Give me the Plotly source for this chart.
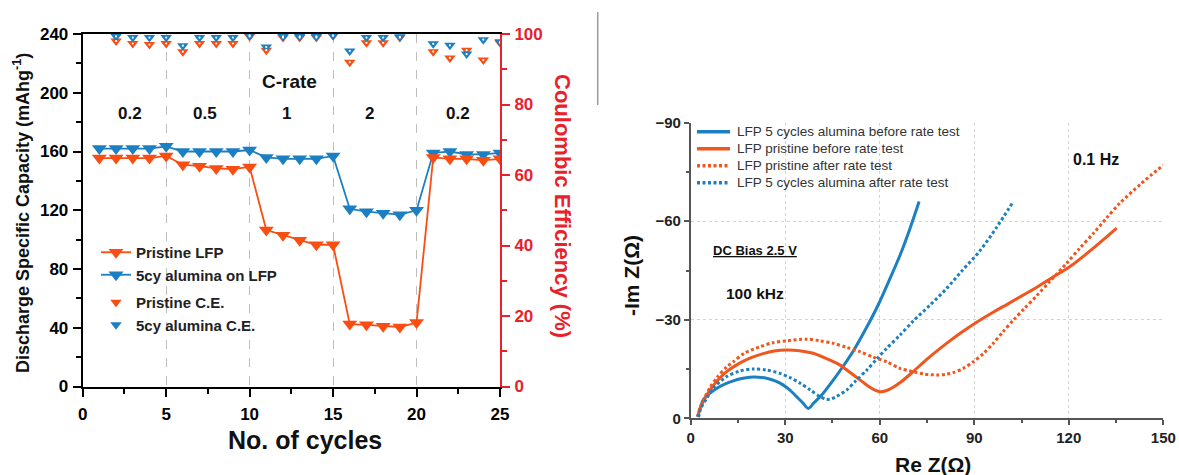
import plotly.graph_objects as go

# ---------------- rate capability data ----------------
cycles = list(range(1, 26))
cap_pristine = [155.5, 155.5, 155.5, 155.5, 157, 151, 150, 148.5, 148, 149.5,
                106.5, 103, 99.5, 96.5, 96.5, 42.5, 42, 41, 40.5, 43.5,
                156, 155, 155, 154, 155]
cap_alumina = [162, 162, 162, 162, 163.5, 160, 160, 160, 160, 161,
               156, 155, 155, 155, 157, 121, 119, 118, 117, 120,
               159, 160, 158, 158, 159]
ce_pristine = [None, 98, 97.3, 97, 97.3, 95, 97.3, 97.3, 97.3, 99.3,
               95.4, 99, 99, 99, 99.5, 92, 97.5, 97.5, 99, None,
               95, 93.2, 95.4, 92.6, 97.5]
ce_alumina = [None, 99.3, 99, 99, 99, 96.7, 99, 99, 99, 99.6,
              96.3, 99.3, 99.3, 99.3, 99.6, 95.2, 99, 99, 99.2, None,
              97.2, 96.8, 94.3, 98.4, 97.8]
rate_bounds = [0, 5, 10, 15, 20, 25]
rate_labels = ["0.2", "0.5", "1", "2", "0.2"]

# ---------------- impedance (Nyquist) data ----------------
re_al_before = [2.2, 3.0, 4.0, 6.0, 8.2, 10.8, 13.5, 16.2, 18.8, 21.5, 24.1, 27.0,
                29.4, 31.6, 33.6, 35.5, 37.3, 39.2, 41.5, 45.3, 48.5, 51.6, 55.9,
                59.5, 63.0, 66.5, 69.5, 72.5]
im_al_before = [-0.5, -3.0, -5.6, -7.6, -9.1, -10.4, -11.4, -12.1, -12.5, -12.5,
                -12.2, -11.3, -10.1, -8.5, -6.6, -4.8, -3.0, -4.8, -7.0, -11.7,
                -16.0, -20.5, -27.8, -34.5, -42.0, -49.8, -57.5, -66.0]

re_pr_before = [2.2, 3.0, 4.5, 6.1, 8.5, 11.4, 15.0, 18.8, 23.0, 26.5, 30.5, 34.5,
                38.9, 43.0, 47.4, 50.5, 53.7, 56.5, 58.5, 60.1, 62.0, 64.0, 66.4,
                70.6, 75.0, 81.2, 86.0, 91.0, 96.0, 101.0, 105.5, 110.0, 115.0,
                120.4, 127.8, 135.2]
im_pr_before = [-0.5, -3.0, -6.0, -8.6, -11.5, -14.2, -16.5, -18.3, -19.7, -20.5,
                -20.8, -20.6, -19.8, -18.2, -16.2, -14.0, -11.7, -9.7, -8.6, -8.1,
                -8.4, -9.3, -10.8, -14.2, -18.0, -22.8, -26.2, -29.4, -32.3, -35.0,
                -37.5, -40.0, -43.0, -46.2, -51.8, -57.9]

re_pr_after = [2.2, 3.0, 4.5, 6.1, 8.5, 11.4, 13.5, 17.0, 22.0, 26.0, 30.5, 36.8,
               41.0, 45.3, 49.5, 53.7, 58.0, 62.2, 66.4, 70.6, 74.0, 78.0, 81.0,
               83.3, 86.5, 89.7, 93.0, 96.0, 99.0, 102.4, 106.0, 109.8, 114.0,
               119.3, 123.5, 127.8, 132.0, 136.2, 143.0, 150.0]
im_pr_after = [-0.5, -3.2, -6.5, -9.3, -12.6, -15.6, -17.2, -19.8, -21.8, -23.0,
               -23.6, -24.1, -23.6, -22.8, -21.6, -20.3, -18.6, -17.2, -15.2, -14.2,
               -13.5, -13.2, -13.4, -13.9, -15.2, -17.2, -19.8, -22.8, -26.2, -29.9,
               -33.5, -37.3, -41.7, -47.2, -51.8, -56.3, -61.0, -65.5, -71.5, -77.1]

re_al_after = [2.5, 3.2, 5.1, 7.5, 11.4, 15.5, 19.9, 24.0, 28.3, 31.5, 34.7, 38.0,
               41.0, 43.0, 44.2, 46.0, 49.5, 52.5, 55.9, 59.0, 62.2, 66.4, 70.6,
               76.0, 81.2, 86.0, 91.8, 97.0, 102.4]
im_al_after = [-0.3, -3.0, -6.1, -9.5, -12.7, -14.4, -15.0, -14.7, -13.7, -12.4,
               -10.7, -8.6, -6.6, -5.8, -5.8, -6.5, -8.6, -11.5, -14.7, -18.0,
               -21.3, -25.3, -29.6, -34.5, -39.5, -44.8, -51.0, -58.0, -66.0]

ORANGE = "#FA4D12"
BLUE = "#1C7FC2"
RED = "#E8212B"
E_ORANGE = "#F0561E"
E_BLUE = "#1C80C0"
FONT = "Arial, Liberation Sans, sans-serif"
DOT = "3px,2.5px"

W, H = 1179, 475


def px(x):
    return x / W


def py(y):
    return 1 - y / H


fig = go.Figure()

# ---- discharge capacity (left axis) ----
fig.add_trace(go.Scatter(
    x=cycles, y=cap_alumina, mode="lines+markers", name="5cy alumina on LFP",
    line=dict(color=BLUE, width=1.8),
    marker=dict(symbol="triangle-down", size=13, color=BLUE),
    xaxis="x", yaxis="y", legend="legend", legendgroup="cap", legendrank=2))
fig.add_trace(go.Scatter(
    x=cycles, y=cap_pristine, mode="lines+markers", name="Pristine LFP",
    line=dict(color=ORANGE, width=1.8),
    marker=dict(symbol="triangle-down", size=13, color=ORANGE),
    xaxis="x", yaxis="y", legend="legend", legendgroup="cap", legendrank=1))

# ---- coulombic efficiency (right axis) ----
fig.add_trace(go.Scatter(
    x=cycles, y=ce_pristine, mode="markers", name="Pristine C.E.",
    marker=dict(symbol="triangle-down", size=10, color=ORANGE),
    xaxis="x", yaxis="y2", legend="legend", legendgroup="ce", legendrank=3))
fig.add_trace(go.Scatter(
    x=cycles, y=ce_alumina, mode="markers", name="5cy alumina C.E.",
    marker=dict(symbol="triangle-down", size=10, color=BLUE),
    xaxis="x", yaxis="y2", legend="legend", legendgroup="ce", legendrank=4))
for ce in (ce_pristine, ce_alumina):
    fig.add_trace(go.Scatter(
        x=cycles, y=ce, mode="markers", showlegend=False, hoverinfo="skip",
        marker=dict(symbol="circle", size=2.2, color="white"),
        xaxis="x", yaxis="y2"))

# ---- Nyquist curves ----
nyq = [
    (re_al_before, im_al_before, "LFP 5 cycles alumina before rate test", E_BLUE, "solid"),
    (re_pr_before, im_pr_before, "LFP pristine before rate test", E_ORANGE, "solid"),
    (re_pr_after, im_pr_after, "LFP pristine after rate test", E_ORANGE, DOT),
    (re_al_after, im_al_after, "LFP 5 cycles alumina after rate test", E_BLUE, DOT),
]
for xs, ys, name, col, dash in nyq:
    fig.add_trace(go.Scatter(
        x=xs, y=ys, mode="lines", name=name, showlegend=False,
        line=dict(color=col, width=3, dash=dash, shape="spline", smoothing=0.8),
        xaxis="x2", yaxis="y3"))

bold = dict(family=FONT, weight="bold")

left_x = [px(82.7), px(500)]
left_y = [py(386.5), py(34)]
right_x = [px(690.7), px(1163.3)]
right_y = [py(418.3), py(122.7)]

fig.update_layout(
    width=W, height=H,
    margin=dict(l=0, r=0, t=0, b=0, pad=0, autoexpand=False),
    paper_bgcolor="white", plot_bgcolor="white",
    font=dict(family=FONT, color="black"),
    showlegend=True,
    xaxis=dict(
        domain=left_x, range=[0, 25], anchor="y", automargin=False,
        tickvals=rate_bounds, ticks="outside", ticklen=8, tickwidth=2,
        tickcolor="black", showline=True, linecolor="black", linewidth=2,
        mirror=True, showgrid=True, gridcolor="#bdbdbd", griddash="dash",
        gridwidth=1, zeroline=False,
        minor=dict(ticks="outside", dtick=2.5, ticklen=5, tickwidth=2,
                   tickcolor="black", showgrid=False),
        tickfont=dict(size=17, color="black", **bold), ticklabelstandoff=3),
    yaxis=dict(
        domain=left_y, range=[0, 240], anchor="x", automargin=False,
        dtick=40, ticks="outside", ticklen=8, tickwidth=2, tickcolor="black",
        showline=True, linecolor="black", linewidth=2, showgrid=False,
        zeroline=False,
        minor=dict(ticks="outside", dtick=20, ticklen=5, tickwidth=2,
                   tickcolor="black"),
        tickfont=dict(size=17, color="black", **bold), ticklabelstandoff=1),
    yaxis2=dict(
        range=[0, 100], overlaying="y", side="right", anchor="x",
        automargin=False,
        dtick=20, ticks="outside", ticklen=8, tickwidth=2, tickcolor=RED,
        showline=True, linecolor=RED, linewidth=2, showgrid=False,
        zeroline=False,
        minor=dict(ticks="outside", dtick=10, ticklen=5, tickwidth=2,
                   tickcolor=RED),
        tickfont=dict(size=17, color=RED, **bold), ticklabelstandoff=1),
    xaxis2=dict(
        domain=right_x, range=[0, 150], anchor="y3", automargin=False,
        dtick=30, ticks="outside", ticklen=5, tickwidth=1.5, tickcolor="#555",
        showline=True, linecolor="#555", linewidth=1.5,
        showgrid=True, gridcolor="#d4d4d4", griddash="dot", gridwidth=1,
        zeroline=False,
        minor=dict(ticks="outside", dtick=15, ticklen=3, tickwidth=1.5,
                   tickcolor="#555", showgrid=False),
        tickfont=dict(size=15, color="#222", **bold), ticklabelstandoff=0),
    yaxis3=dict(
        domain=right_y, range=[0, -90], anchor="x2", automargin=False,
        dtick=30, ticks="outside", ticklen=5, tickwidth=1.5, tickcolor="#555",
        showline=True, linecolor="#555", linewidth=1.5,
        showgrid=True, gridcolor="#d4d4d4", griddash="dot", gridwidth=1,
        zeroline=False,
        minor=dict(ticks="outside", dtick=15, ticklen=3, tickwidth=1.5,
                   tickcolor="#555", showgrid=False),
        tickfont=dict(size=15, color="#222", **bold), ticklabelstandoff=0),
    legend=dict(
        x=px(96), y=py(236), xanchor="left", yanchor="top",
        bgcolor="rgba(0,0,0,0)", traceorder="grouped", tracegroupgap=5,
        font=dict(size=15, color="#222", **bold), itemwidth=30),
)

C = dict(xanchor="center", yanchor="middle", showarrow=False)
ann = []
# C-rate segment labels (centred over each block of five cycles)
label_x = [2.85, 7.3, 12.2, 17.2, 22.5]
for lx, lab in zip(label_x, rate_labels):
    ann.append(dict(x=lx, y=186, xref="x", yref="y", text=lab,
                    font=dict(size=17, color="#111", **bold), **C))
ann.append(dict(x=12.4, y=208, xref="x", yref="y", text="C-rate",
                font=dict(size=19, color="#111", **bold), **C))

# axis titles
ann += [
    dict(x=px(21), y=py(213), xref="paper", yref="paper", textangle=-90,
         text="Discharge Specific Capacity (mAhg<sup>-1</sup>)",
         font=dict(size=18, color="#111", **bold), **C),
    dict(x=px(563), y=py(206), xref="paper", yref="paper", textangle=90,
         text="Coulombic Efficiency (%)",
         font=dict(size=22, color=RED, **bold), **C),
    dict(x=px(305), y=py(440), xref="paper", yref="paper",
         text="No. of cycles",
         font=dict(size=25, color="#111", **bold), **C),
    dict(x=px(631), y=py(276), xref="paper", yref="paper", textangle=-90,
         text="-Im Z(Ω)",
         font=dict(size=21, color="#111", **bold), **C),
    dict(x=px(933), y=py(464), xref="paper", yref="paper",
         text="Re Z(Ω)",
         font=dict(size=21, color="#111", **bold), **C),
]

# impedance annotations
ann += [
    dict(x=20.3, y=-51.2, xref="x2", yref="y3", text="DC Bias 2.5 V",
         font=dict(size=13, color="#111", lineposition="under", **bold), **C),
    dict(x=20.4, y=-38, xref="x2", yref="y3", text="100 kHz",
         font=dict(size=15.5, color="#111", **bold), **C),
    dict(x=128.6, y=-78.7, xref="x2", yref="y3", text="0.1 Hz",
         font=dict(size=16, color="#111", **bold), **C),
]

# compact key for the impedance panel: line sample + label per curve
shapes = []
key_top, key_step = 131.7, 17.0
for i, (_, _, name, col, dash) in enumerate(nyq):
    yy = py(key_top + i * key_step)
    shapes.append(dict(type="line", xref="paper", yref="paper",
                       x0=px(697), x1=px(730), y0=yy, y1=yy,
                       line=dict(color=col, width=3.5, dash=dash)))
    ann.append(dict(x=px(735), y=yy, xref="paper", yref="paper", text=name,
                    xanchor="left", yanchor="middle", showarrow=False,
                    font=dict(family=FONT, size=13.5, color="#333")))

# panel divider
shapes.append(dict(type="line", xref="paper", yref="paper",
                   x0=px(597.7), x1=px(597.7), y0=py(12), y1=py(105),
                   line=dict(color="#9a9a9a", width=1.5)))

fig.update_layout(annotations=ann, shapes=shapes)

fig.write_html("out.html")
